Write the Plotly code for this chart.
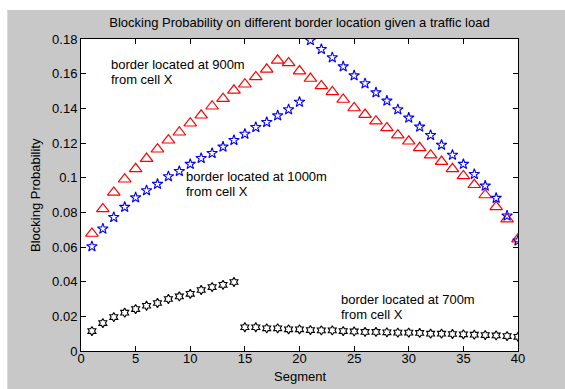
import plotly.graph_objects as go

segments = list(range(1, 41))

# border located at 900m (red triangles)
blk_900 = [0.0678, 0.0820, 0.0915, 0.0991, 0.1051, 0.1110, 0.1164, 0.1216, 0.1262, 0.1314,
           0.1360, 0.1412, 0.1456, 0.1504, 0.1539, 0.1581, 0.1625, 0.1677, 0.1662, 0.1615,
           0.1572, 0.1529, 0.1495, 0.1451, 0.1402, 0.1364, 0.1326, 0.1287, 0.1245, 0.1210,
           0.1172, 0.1130, 0.1093, 0.1051, 0.1010, 0.0959, 0.0900, 0.0832, 0.0761, 0.0646]

# border located at 1000m (blue stars)
blk_1000 = [0.0603, 0.0705, 0.0772, 0.0830, 0.0885, 0.0926, 0.0963, 0.1007, 0.1037, 0.1078,
            0.1112, 0.1141, 0.1178, 0.1216, 0.1252, 0.1291, 0.1320, 0.1358, 0.1393, 0.1437,
            0.1792, 0.1741, 0.1693, 0.1641, 0.1589, 0.1543, 0.1491, 0.1443, 0.1393, 0.1345,
            0.1293, 0.1245, 0.1189, 0.1131, 0.1078, 0.1020, 0.0953, 0.0882, 0.0780, 0.0636]

# border located at 700m (black hexagrams)
blk_700 = [0.0115, 0.0161, 0.0196, 0.0221, 0.0242, 0.0261, 0.0277, 0.0300, 0.0315, 0.0330,
           0.0352, 0.0369, 0.0382, 0.0398, 0.0137, 0.0137, 0.0131, 0.0131, 0.0125, 0.0125,
           0.0121, 0.0119, 0.0119, 0.0115, 0.0113, 0.0110, 0.0110, 0.0108, 0.0106, 0.0106,
           0.0104, 0.0100, 0.0100, 0.0098, 0.0096, 0.0094, 0.0092, 0.0090, 0.0086, 0.0082]

x_ticks = [0, 5, 10, 15, 20, 25, 30, 35, 40]
y_ticks = [0, 0.02, 0.04, 0.06, 0.08, 0.1, 0.12, 0.14, 0.16, 0.18]
y_tick_text = ["0", "0.02", "0.04", "0.06", "0.08", "0.1", "0.12", "0.14", "0.16", "0.18"]

FONT = "Liberation Sans, Arial, sans-serif"
GRAY = "#c8c8c8"

fig = go.Figure()
fig.add_trace(go.Scatter(x=segments, y=blk_700, mode="markers", name="700m",
                         marker=dict(symbol="hexagram-open", size=7, color="black",
                                     line=dict(width=1.1, color="black"))))
fig.add_trace(go.Scatter(x=segments, y=blk_900, mode="markers", name="900m",
                         marker=dict(symbol="triangle-up-open", size=11, color="red",
                                     line=dict(width=1.2, color="red"))))
fig.add_trace(go.Scatter(x=segments, y=blk_1000, mode="markers", name="1000m",
                         marker=dict(symbol="star-open", size=8, color="blue",
                                     line=dict(width=1.1, color="blue"))))

axis_common = dict(showline=True, linecolor="black", linewidth=1, mirror="allticks",
                   ticks="inside", ticklen=5, tickcolor="black", showgrid=False,
                   zeroline=False, automargin=False,
                   tickfont=dict(family=FONT, size=13, color="black"))

fig.update_xaxes(range=[0, 40], tickvals=x_ticks, ticklabelstandoff=-5, **axis_common)
fig.update_yaxes(range=[0, 0.18], tickvals=y_ticks, ticktext=y_tick_text, **axis_common)

# axis titles
fig.add_annotation(x=0.5, y=-(376.7 - 351) / 312, xref="paper", yref="paper", text="Segment",
                   showarrow=False, xanchor="center", yanchor="middle",
                   font=dict(family=FONT, size=13, color="black"))
fig.add_annotation(x=(35 - 81) / 437, y=0.5, xref="paper", yref="paper",
                   text="Blocking Probability", textangle=-90,
                   showarrow=False, xanchor="center", yanchor="middle",
                   font=dict(family=FONT, size=13, color="black"))

annots = [
    (2.6, 0.1652, "border located at 900m"),
    (2.6, 0.1565, "from cell X"),
    (9.45, 0.1007, "border located at 1000m"),
    (9.45, 0.0921, "from cell X"),
    (23.6, 0.0298, "border located at 700m"),
    (23.6, 0.0211, "from cell X"),
]
for ax_x, ax_y, txt in annots:
    fig.add_annotation(x=ax_x, y=ax_y, xref="x", yref="y", text=txt, showarrow=False,
                       xanchor="left", yanchor="middle",
                       font=dict(family=FONT, size=13, color="black"))

# white strips at top/left of the figure window
fig.add_shape(type="rect", xref="paper", yref="paper", x0=-0.2, x1=-0.1686, y0=-0.2, y1=1.2,
              fillcolor="white", line=dict(width=0), layer="below")
fig.add_shape(type="rect", xref="paper", yref="paper", x0=-0.2, x1=1.2, y0=1.0929, y1=1.2,
              fillcolor="white", line=dict(width=0), layer="below")

fig.update_layout(
    width=565, height=389,
    margin=dict(l=81, r=47, t=39, b=38),
    paper_bgcolor=GRAY, plot_bgcolor="white",
    showlegend=False,
    title=dict(text="Blocking Probability on different border location given a traffic load",
               x=0.5, xref="paper", xanchor="center", y=1 - 22 / 389, yref="container",
               yanchor="middle", font=dict(family=FONT, size=13, color="black")),
)

fig.write_html("out.html")
